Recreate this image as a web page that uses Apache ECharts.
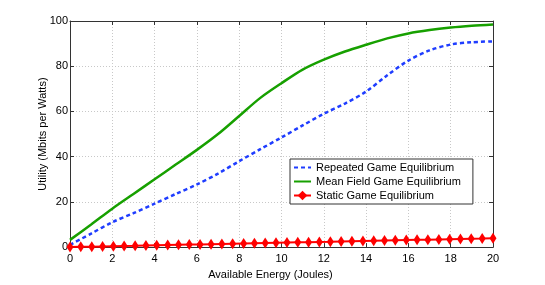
<!DOCTYPE html>
<html>
<head>
<meta charset="utf-8">
<script src="https://cdn.jsdelivr.net/npm/echarts@6/dist/echarts.min.js"></script>
<style>html,body{margin:0;padding:0;background:#fff}#c{width:545px;height:285px}</style>
</head>
<body>
<div id="c"></div>
<script>
// x values for the smooth curves
var energyCurve = [0,1,2,3,4,5,6,7,8,9,10,11,12,13,14,15,16,17,18,19,20];
var repeated = [1, 6, 11, 15, 19.2, 23.5, 27.7, 32.5, 38, 43.3, 48.5, 53.8, 59, 63.5, 68.8, 76, 82.5, 87, 89.6, 90.6, 91];
var meanField = [3.2, 10, 17, 23.5, 30, 36.5, 43, 50, 58, 66, 72.5, 78.5, 82.9, 86.5, 89.5, 92.3, 94.5, 96, 97.1, 97.9, 98.5];
// x values for the marked series
var energyMarks = [0,0.51,1.03,1.54,2.05,2.56,3.08,3.59,4.10,4.62,5.13,5.64,6.15,6.67,7.18,7.69,8.21,8.72,9.23,9.74,10.26,10.77,11.28,11.79,12.31,12.82,13.33,13.85,14.36,14.87,15.38,15.90,16.41,16.92,17.44,17.95,18.46,18.97,19.49,20];
var staticEq = [0,0.1,0.2,0.3,0.4,0.5,0.6,0.7,0.8,0.9,1.0,1.1,1.2,1.3,1.4,1.5,1.6,1.7,1.8,1.9,2.0,2.1,2.2,2.3,2.4,2.5,2.6,2.7,2.8,2.9,3.0,3.1,3.2,3.3,3.4,3.5,3.6,3.7,3.8,3.95];
var xTicks = {min: 0, max: 20, interval: 2};
var yTicks = {min: 0, max: 100, interval: 20};
var names = ['Repeated Game Equilibrium', 'Mean Field Game Equilibrium', 'Static Game Equilibrium'];

function pairs(xs, ys){ return ys.map(function(v,i){ return [xs[i], v]; }); }

var FONT = '"Liberation Sans", Arial, sans-serif';
var axisCol = '#333';
var chart = echarts.init(document.getElementById('c'), null, {renderer: 'canvas'});
var baseAxis = function(t, pos, show, margin){
  return {
    type: 'value', position: pos, min: t.min, max: t.max, interval: t.interval,
    axisLine: {show: true, onZero: false, lineStyle: {color: axisCol, width: 1}},
    axisTick: {show: true, inside: true, length: 4, lineStyle: {color: axisCol}},
    axisLabel: {show: show, color: '#000', fontSize: 11, fontFamily: FONT, margin: margin},
    splitLine: {show: show, lineStyle: {color: '#c8c8c8', type: [1, 2], width: 1}}
  };
};
var xa = baseAxis(xTicks, 'bottom', true, 6);
xa.name = 'Available Energy (Joules)';
xa.nameLocation = 'middle';
xa.nameGap = 15;
xa.nameTextStyle = {color: '#000', fontSize: 11, fontFamily: FONT, padding: [0, 22, 0, 0]};
var xTop = baseAxis(xTicks, 'top', false, 4);
var ya = baseAxis(yTicks, 'left', true, 2);
ya.name = 'Utility (Mbits per Watts)';
ya.nameLocation = 'middle';
ya.nameGap = 22;
ya.nameMoveOverlap = false;
ya.nameTextStyle = {color: '#000', fontSize: 11, fontFamily: FONT};
var yRight = baseAxis(yTicks, 'right', false, 4);

chart.setOption({
  animation: false,
  backgroundColor: '#fff',
  grid: {left: 70, right: 52, top: 21, bottom: 32},
  xAxis: [xa, xTop],
  yAxis: [ya, yRight],
  legend: {
    orient: 'vertical', left: 290, top: 159,
    data: [
      {name: names[0], itemStyle: {opacity: 0}},
      {name: names[1], itemStyle: {opacity: 0}},
      {name: names[2]}
    ],
    backgroundColor: '#fff', borderColor: '#333', borderWidth: 1, borderRadius: 0,
    padding: [3, 12, 3, 3], itemGap: 3, itemWidth: 17, itemHeight: 12,
    textStyle: {color: '#000', fontSize: 11, fontFamily: FONT}
  },
  series: [
    {name: names[0], type: 'line', data: pairs(energyCurve, repeated), smooth: 0.3, showSymbol: false, symbol: 'none',
     lineStyle: {color: '#1f3dff', width: 2.5, type: [4, 3]}, itemStyle: {color: '#1f3dff'}, z: 3},
    {name: names[1], type: 'line', data: pairs(energyCurve, meanField), smooth: 0.3, showSymbol: false, symbol: 'none',
     lineStyle: {color: '#17a000', width: 2.5}, itemStyle: {color: '#17a000'}, z: 3},
    {name: names[2], type: 'line', data: pairs(energyMarks, staticEq), symbol: 'diamond', symbolSize: [7, 11], showSymbol: true,
     lineStyle: {color: '#ff0000', width: 2}, itemStyle: {color: '#ff0000'}, clip: false, z: 4}
  ]
});
</script>
</body>
</html>
